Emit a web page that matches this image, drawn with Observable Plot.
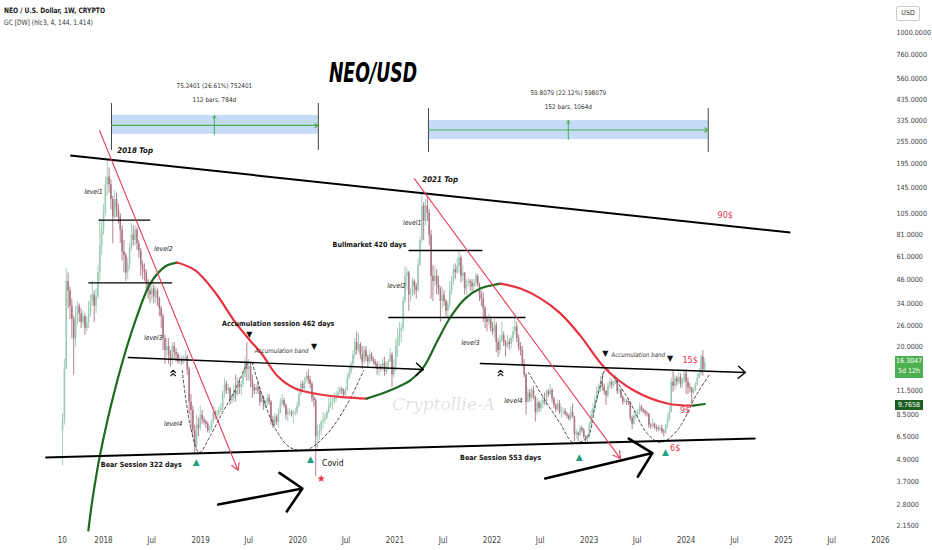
<!DOCTYPE html>
<html><head><meta charset="utf-8">
<script src="https://cdn.jsdelivr.net/npm/d3@7"></script>
<script src="https://cdn.jsdelivr.net/npm/@observablehq/plot@0.6"></script>
<style>
html,body{margin:0;padding:0;background:#fff;}
#wrap{position:relative;width:932px;height:550px;overflow:hidden;background:#fff;font-family:"Liberation Sans Narrow","DejaVu Sans Condensed","Liberation Sans",Arial,sans-serif;}
.abs{position:absolute;white-space:nowrap;}
</style></head><body><div id="wrap"></div>
<script>
// ---------- weekly candles (NEO/USD, 1W), weeks start 2017-07-31 ----------
const startDate = "2017-07-31";
const firstOpen = 7;
const close2017 = [8,15,45,40,33,28,22,30,33,30,27,29,25,27,30,35,38,33,37,50,70,85];
const high2017  = [8.7,17,53,50,42,36,29,33,35,34,32,31,30,29,35,38,45,40,41,55,98,95];
const low2017   = [4.5,7.5,15,32,28,22,14,20,26,27,25,26,23,24,25,29,33,27,30,36,45,62];
const close2018 = [105,150,165,150,125,100,125,110,100,85,65,62,50,55,68,80,75,85,72,66,55,52,50,44,40,38,41,37,40,36,32,29,22,19,20,18,17,20,18.5,18,16.5,17,16.5,17,17.5,15,10,9,7,5.8,7.5,7.2,8.5];
const high2018  = [118,165,205,185,160,130,140,135,118,105,90,75,64,60,72,92,90,90,88,75,68,58,56,52,46,42,44,43,42,41,37,33,30,23,22,22,19,21,21,19.5,18.5,18,17.5,17.8,19,18,15.5,11,9.5,7.5,8.5,8.2,9.5];
const low2018   = [80,100,130,135,110,72,98,100,92,72,58,50,45,46,52,66,70,70,66,60,48,46,45,40,36,34,35,34,34,33,29,25,19,16,17.5,16,15.5,16,17,16.5,16,16,15.8,16,16.5,14,8.5,7,6.5,5.2,5.6,6.5,7];
const close2019 = [8,7.8,7.6,7.0,7.2,7.8,8.8,8.5,8.6,9.0,9.3,11,12.5,11.5,11.8,10.2,10.5,11.5,11,12.5,12,12.4,14,16.5,15,15.5,13,12,11.5,12,11.5,10,10.5,9.5,9.8,10.5,10,8,7.5,8.3,7.8,8.7,9.8,10.2,9.6,8.5,8.8,8.8,8.6,8.7,8.8,9.5];
const high2019  = [9,8.3,8,7.8,7.4,8,9.6,9,9,9.4,9.8,11.5,13.5,13,12.5,12,11,12.5,14,13.5,13.5,13,15,17.5,21,17,16.5,14,12.5,12.5,13,12,11,10.8,10.2,11,11,10.2,8.4,8.7,8.5,9.2,10.5,11,10.5,9.8,9.2,9.2,9,9,9.2,10];
const low2019   = [7.6,7.5,7.2,6.8,6.7,7,7.6,8,8.1,8.4,8.8,9,10.5,11,11,9.6,9.8,10,10,10.8,11,10.8,12,13.5,13,13,12,10.5,11,11,11,9.5,9.8,9,9.2,9.5,9.6,7.5,7.2,7.3,7.5,7.2,8.6,9.5,9.3,8,7.8,8.4,8.3,7.6,8.4,8.5];
const close2020 = [11,12.5,11.8,13,13.8,13.2,12.5,10.5,10.2,6.5,6.8,7.0,7.8,8.0,8.2,8.8,9.6,9.9,10,10.5,10.8,11.2,11.7,11.5,10.9,11.6,13.5,14.5,16,18,21,19,20.5,18,16.5,19,17.5,16.5,18,17,16.5,16,15,15.5,15.2,16.2,14.5,15.5,16.5,18,14,15.5];
const high2020  = [11.5,13,13,13.6,14.5,15,13.8,12.8,11,10.5,7.5,7.6,8.0,8.8,8.6,9,10.5,10.6,10.5,11.2,11.4,12,12.2,12,11.8,12,14.2,15.5,16.5,19,22,24,23.5,21,20,20,20,18,19,18.5,17.5,17,16.5,16.5,16,17.2,17.5,16.5,17,19.5,18.5,17];
const low2020   = [9.3,10.8,11.3,11.6,12.8,12.5,11.8,10,9.4,3.95,5.6,6.2,6.6,7.2,7.6,8,8.6,9.2,9,9.7,10,10.6,10.9,10.9,10.6,10.8,11.4,13.2,14,15,17,18,18.5,17,15,16,16.5,15.5,16,16.5,15.8,15.2,14,13.8,14.6,14.8,13.8,14,14.8,16.5,12,13.5];
const close2021 = [20,22,24,25,35,48,50,38,38,45,42,40,55,75,115,95,115,105,80,48,45,48,43,41,35,38,35,31,34,40,45,52,50,54,60,48,50,41,44,45,44,42,44,48,43,38,36,32,28,27,28,25];
const high2021  = [22,25,27,26.5,37,54,53,51,41,47,46,44,60,78,140,120,125,130,110,85,55,54,52,48,42,42,40,36,35,45,48,55,56,60,66,62,55,50,46,47,46,46,46,50,49,44,40,39,33,29,30,29];
const low2021   = [14.5,17.5,20,21,24,34,40,31,35,37,38,36,39,54,72,75,90,95,70,36,35,42,38,38,27,32,33,29,28,32,38,43,46,49,50,44,45,38,38,42,40,39,39,42,42,35,33,27,25,24,26,24];
const close2022 = [24,26,21,19,21.5,23,21,20,21,20.5,22,24,25.5,22,20,19,16,14,10,11.2,10.5,11.6,10.6,8.8,9.9,9.2,9.8,10.2,10,11.4,11,11.6,10.4,9.6,9.1,9.8,8.8,8.9,8.9,8.6,8.4,8.1,8.8,8.3,6.7,6.8,6.6,7.2,7.0,6.5,6.3,6.5];
const high2022  = [27,28,27,22,23,27,24,21.5,23,22,23,25.5,30,27,23,21,20,17,14.2,12,11.7,12,12.2,10.8,10.4,10.1,10.2,10.7,11.2,11.6,11.7,12.5,11.8,10.6,9.8,10.3,10.2,9.4,9.3,9.2,8.8,8.6,9.4,9.8,8.4,7.1,6.9,7.5,7.4,7.2,6.6,6.7];
const low2022   = [23,22,18.5,17.5,18,21,20,17.5,19.5,19,19.5,21,23,21,19,17.8,15.5,13.5,8.5,9.8,10,10,10.3,7.8,8.5,8.8,8.9,9.2,9.6,9.5,10.6,10.8,9.9,9.2,8.8,8.9,8.6,8.2,8.5,8.4,8.1,7.9,7.9,8.2,6.1,6.3,6.1,6.5,6.8,6.3,6.0,6.0];
const close2023 = [7.5,8.5,9.2,10.2,11.5,11.8,12.8,12,11.4,10.8,12.2,12.8,12.3,12.6,13.2,11.4,11.6,10.6,10,10.1,10,9.9,8.2,7.6,8.4,8.6,8.8,9.4,9.1,8.9,8.7,8.6,7.5,7.4,7.6,7.3,7.2,7.1,7.2,6.9,6.8,7.4,8.0,8.8,12.8,12.2,13.4,12.8,13.6,12.4,13,14.2];
const high2023  = [7.8,9,9.8,10.8,12.2,12.5,13.8,14.3,12.5,11.6,12.8,13.6,13.2,13,14,13.5,12,11.8,10.8,10.5,10.3,10.4,10,8.4,8.8,9,9.1,9.9,9.6,9.2,9.1,8.9,8.7,7.7,8.1,7.7,7.5,7.4,7.5,7.5,7.1,7.6,8.6,9.4,13.5,14.8,14,13.8,14.4,14.2,13.5,14.8];
const low2023   = [6.3,7.3,8.3,9,10,10.8,11.3,11.5,10.9,9.6,10.5,11.8,11.7,12,12.4,11,11,10.4,9.6,9.8,9.6,9.6,7.9,7.1,7.5,8.1,8.3,8.5,8.8,8.6,8.4,8.3,7.2,7.1,7.2,7.1,6.9,6.9,6.9,6.7,6.5,6.7,7.2,7.8,8.7,11.3,11.6,12.2,12.5,11.9,11.8,12.6];
const close2024 = [12.8,12,11.8,11.2,11.6,12.4,13.5,14.2,17.5,15,16.3047];
const high2024  = [15,13.5,12.6,12,12,12.8,14.2,15.2,18,19,17.2];
const low2024   = [11,11,11.2,9.8,11,11.4,12.2,13.3,13.8,13.8,14.6];

// ---------- GC [DW] indicator (rising = green, falling = red) ----------
const gcRise1 = [["2017-11-05",2.02],["2017-11-20",2.94],["2017-12-20",5.27],["2018-02-22",13.1],["2018-05-01",27.6],["2018-06-26",43.8],["2018-08-21",54.2],["2018-10-05",56.9]];
const gcFall1 = [["2018-10-05",56.9],["2018-12-12",51.6],["2019-02-25",39.2],["2019-05-12",27.0],["2019-07-07",21.5],["2019-08-21",18.1],["2019-10-16",13.9],["2019-12-23",11.85],["2020-03-26",11.0],["2020-06-29",10.6],["2020-09-16",10.45]];
const gcRise2 = [["2020-09-16",10.45],["2020-12-15",11.6],["2021-02-28",13.1],["2021-04-18",15.4],["2021-06-10",21.5],["2021-07-28",28.7],["2021-09-23",36.4],["2021-11-18",41.2],["2022-02-02",43.8]];
const gcFall2 = [["2022-02-02",43.8],["2022-04-18",41.2],["2022-07-02",36.4],["2022-09-15",30.2],["2022-11-29",22.9],["2023-03-03",15.2],["2023-06-17",11.6],["2023-10-22",9.83],["2024-01-27",9.58]];
const gcRise3 = [["2024-01-27",9.58],["2024-03-11",9.7658]];
const gcLast = 9.7658;

// ---------- drawings ----------
const trendLines = [["2017-08-29",216,"2025-01-27",82.8],["2017-05-27",5.02,"2024-09-18",6.36]];
const levelLines = [["2017-12-13",96.5,"2018-06-26",96.5],["2017-11-05",44.2,"2018-09-16",44.2],["2021-02-21",66.1,"2021-11-26",66.1],["2020-12-07",28.7,"2022-05-07",28.7]];
const bandArrows = [["2018-04-04",17.43,"2021-04-18",15.01],["2021-11-18",16.18,"2024-08-11",14.47]];
const redArrows = [["2017-12-17",295,"2019-05-22",4.27],["2021-03-15",162,"2023-04-29",4.95]];
const blackArrows = [["2019-03-08",2.79,"2020-01-19",3.41],["2022-07-20",3.86,"2023-08-27",5.30]];
const cups = [
  [["2018-10-24",14.83],["2018-11-23",7.47],["2018-12-27",5.34],["2019-02-07",6.59],["2019-03-24",8.78],["2019-05-04",11.1],["2019-06-29",16.8]],
  [["2019-07-14",16.38],["2019-08-21",10.86],["2019-10-09",7.2],["2019-12-04",5.68],["2020-02-06",5.54],["2020-04-22",6.76],["2020-07-07",9.83],["2020-09-05",14.83]],
  [["2022-05-18",14.47],["2022-07-20",10.2],["2022-09-15",7.66],["2022-11-02",6.05],["2022-12-25",6.43],["2023-01-24",9.59],["2023-02-27",14.83]],
  [["2023-03-11",15.2],["2023-05-25",10.6],["2023-08-08",6.76],["2023-09-26",6.05],["2023-11-28",7.02],["2024-02-11",11.1],["2024-04-01",14.29]]
];
const topMarks = [["2019-07-03",23.2],["2020-03-03",20.0],["2023-03-03",18.3],["2023-11-02",17.22]];
const bottomMarks = [["2018-12-16",4.71],["2020-02-18",4.89],["2022-11-25",5.02],["2023-10-15",5.34]];
const doubleUpMarks = [["2018-09-20",14.29],["2022-02-02",14.29]];
const covidStar = [["2020-03-30",3.86]];

const sessionNotes = [["2018-05-23",4.60,"Bear Session 322 days"],["2019-10-20",26.6,"Accumulation session 462 days"],["2020-09-27",71.3,"Bullmarket 420 days"],["2022-02-02",5.02,"Bear Session 553 days"]];
const topNotes = [["2018-02-22",230,"2018 Top"],["2021-04-14",160,"2021 Top"]];
const levelNotes = [["2017-11-24",138,"level1"],["2018-08-14",67.8,"level2"],["2018-07-07",22.4,"level3"],["2018-09-20",7.66,"level4"],["2021-03-07",93.7,"level1"],["2021-01-07",42.8,"level2"],["2021-10-12",21.0,"level3"],["2022-03-23",10.2,"level4"]];
const bandNotes = [["2019-11-02",18.8,"Accumulation band"],["2023-07-05",17.9,"Accumulation band"]];
const priceNotes = [["2024-01-16",16.8,"15$"],["2023-12-28",9.01,"9$"],["2023-11-21",5.61,"6$"],["2024-05-27",102.3,"90$"]];
const covidNote = [["2020-04-02",4.65,"Covid"]];

// date-range measurements: start, end, middle, band top/bottom, middle price, frame top/bottom, label prices, labels
const measures = [
  ["2018-01-31","2020-03-19","2019-02-22",356,281,314,413,230,511,429,"75.2401 (26.61%) 752401","112 bars, 784d"],
  ["2021-05-07","2024-03-24","2022-10-15",334,263.6,296.8,388,224,473.5,397.8,"59.8079 (22.12%) 598079","152 bars, 1064d"]
];

// axes
const yTicks = [1000,760,560,435,335,255,195,145,105,81,61,46,34,26,20,11.5,8.5,6.5,4.9,3.7,2.8,2.15];
const xTickDates = ["2017-07-30","2018-01-01","2018-07-01","2019-01-01","2019-07-01","2020-01-01","2020-07-01","2021-01-01","2021-07-01","2022-01-01","2022-07-01","2023-01-01","2023-07-01","2024-01-01","2024-07-01","2025-01-01","2025-07-01","2026-01-01"];
const xTickLabels = ["10","2018","Jul","2019","Jul","2020","Jul","2021","Jul","2022","Jul","2023","Jul","2024","Jul","2025","Jul","2026"];
const xEnd = "2026-01-01";

// ---------- build ----------
const D = s => new Date(s + "T00:00:00Z");
const closes = [...close2017,...close2018,...close2019,...close2020,...close2021,...close2022,...close2023,...close2024];
const highs  = [...high2017,...high2018,...high2019,...high2020,...high2021,...high2022,...high2023,...high2024];
const lows   = [...low2017,...low2018,...low2019,...low2020,...low2021,...low2022,...low2023,...low2024];
const t0 = D(startDate).getTime();
const candles = closes.map((c,i) => {
  const o = i === 0 ? firstOpen : closes[i-1];
  return {date:new Date(t0 + i*7*864e5), open:o, close:c, high:Math.max(highs[i],o,c), low:Math.min(lows[i],o,c), up:c>=o};
});
const pts = a => a.map(([d,p]) => ({d:D(d), p}));
const segs = a => a.map(([a1,p1,a2,p2]) => ({d1:D(a1), p1, d2:D(a2), p2}));
const notes = a => a.map(([d,p,t]) => ({d:D(d), p, t}));
const meas = measures.map(m => ({d1:D(m[0]), d2:D(m[1]), dm:D(m[2]), top:m[3], bot:m[4], mid:m[5], vt:m[6], vb:m[7], l1:m[8], l2:m[9], t1:m[10], t2:m[11]}));
const labelMap = new Map(xTickDates.map((d,i) => [+D(d), xTickLabels[i]]));

// double chevron marker symbol
const doubleChevron = {
  draw(ctx, size) {
    const s = Math.sqrt(size) / 2;
    ctx.moveTo(-s, -0.2*s); ctx.lineTo(0, -1.2*s); ctx.lineTo(s, -0.2*s);
    ctx.moveTo(-s, 1.0*s); ctx.lineTo(0, 0); ctx.lineTo(s, 1.0*s);
  }
};

const UP = "#9ccab4", DOWN = "#ac7584", GREEN = "#1d6b21", RED = "#e8323f", PINK = "#e5334f", TEAL = "#1f9e80";
const FONT = '"Liberation Sans Narrow","DejaVu Sans Condensed","Liberation Sans",Arial,sans-serif';

const chart = Plot.plot({
  width: 932, height: 550,
  marginLeft: 0, marginRight: 40, marginTop: 0, marginBottom: 16,
  style: {fontFamily: FONT, background: "transparent", color: "#222"},
  x: {type: "utc", domain: [D("2018-01-01"), D(xEnd)], range: [103, 880]},
  y: {type: "log", domain: [2.15, 1000], range: [525, 32]},
  marks: [
    // measurement boxes
    Plot.rect(meas, {x1:"d1", x2:"d2", y1:"bot", y2:"top", fill:"#bcd6f4", fillOpacity:0.85}),
    Plot.ruleX(meas, {x:"d1", y1:"vb", y2:"vt", stroke:"#444", strokeWidth:1}),
    Plot.ruleX(meas, {x:"d2", y1:"vb", y2:"vt", stroke:"#444", strokeWidth:1}),
    Plot.arrow(meas, {x1:"d1", x2:"d2", y1:"mid", y2:"mid", stroke:"#4caf50", strokeWidth:1.2, headLength:5}),
    Plot.arrow(meas, {x1:"dm", x2:"dm", y1:"bot", y2:"top", stroke:"#4caf50", strokeWidth:1, headLength:5}),
    Plot.text(meas, {x:"dm", y:"l1", text:"t1", fontSize:6.4, fill:"#333"}),
    Plot.text(meas, {x:"dm", y:"l2", text:"t2", fontSize:6.4, fill:"#333"}),
    // candles
    Plot.ruleX(candles, {x:"date", y1:"low", y2:"high", stroke:d => d.up ? UP : DOWN, strokeWidth:0.9}),
    Plot.ruleX(candles, {x:"date", y1:"open", y2:"close", stroke:d => d.up ? UP : DOWN, strokeWidth:1.6}),
    // dashed cups
    ...cups.map(c => Plot.line(pts(c), {x:"d", y:"p", stroke:"#333", strokeWidth:0.9, strokeDasharray:"2.5,2.5", curve:"catmull-rom"})),
    // GC indicator
    Plot.line(pts(gcRise1), {x:"d", y:"p", stroke:GREEN, strokeWidth:2.2, curve:"catmull-rom"}),
    Plot.line(pts(gcFall1), {x:"d", y:"p", stroke:RED, strokeWidth:2.2, curve:"catmull-rom"}),
    Plot.line(pts(gcRise2), {x:"d", y:"p", stroke:GREEN, strokeWidth:2.2, curve:"catmull-rom"}),
    Plot.line(pts(gcFall2), {x:"d", y:"p", stroke:RED, strokeWidth:2.2, curve:"catmull-rom"}),
    Plot.line(pts(gcRise3), {x:"d", y:"p", stroke:GREEN, strokeWidth:2.2, curve:"catmull-rom"}),
    // trend lines and levels
    Plot.link(segs(trendLines), {x1:"d1", y1:"p1", x2:"d2", y2:"p2", stroke:"#000", strokeWidth:2}),
    Plot.link(segs(levelLines), {x1:"d1", y1:"p1", x2:"d2", y2:"p2", stroke:"#000", strokeWidth:1.4}),
    Plot.arrow(segs(bandArrows), {x1:"d1", y1:"p1", x2:"d2", y2:"p2", stroke:"#000", strokeWidth:1.4, headLength:10, headAngle:80}),
    Plot.arrow(segs(redArrows), {x1:"d1", y1:"p1", x2:"d2", y2:"p2", stroke:"#e8405a", strokeWidth:1.1, headLength:11, headAngle:60}),
    Plot.arrow(segs(blackArrows), {x1:"d1", y1:"p1", x2:"d2", y2:"p2", stroke:"#000", strokeWidth:2.6, headLength:16, headAngle:90}),
    // markers
    Plot.text(notes(topMarks.map(m => [...m,"▼"])), {x:"d", y:"p", text:"t", fontSize:8, fill:"#111", fontFamily:"DejaVu Sans"}),
    Plot.text(notes(bottomMarks.map(m => [...m,"▲"])), {x:"d", y:"p", text:"t", fontSize:9, fill:TEAL, fontFamily:"DejaVu Sans"}),
    Plot.dot(pts(doubleUpMarks), {x:"d", y:"p", symbol:doubleChevron, r:3, stroke:"#111", strokeWidth:1.2, fill:"none"}),
    Plot.text(notes(covidStar.map(m => [...m,"★"])), {x:"d", y:"p", text:"t", fontSize:10, fill:PINK, fontFamily:"DejaVu Sans"}),
    // annotations
    Plot.text(notes(sessionNotes), {x:"d", y:"p", text:"t", fontSize:7.1, fontWeight:"bold", fill:"#111"}),
    Plot.text(notes(topNotes), {x:"d", y:"p", text:"t", fontSize:7.8, fontWeight:"bold", fontStyle:"italic", fill:"#111", textAnchor:"start"}),
    Plot.text(notes(levelNotes), {x:"d", y:"p", text:"t", fontSize:6.8, fontStyle:"italic", fill:"#222"}),
    Plot.text(notes(bandNotes), {x:"d", y:"p", text:"t", fontSize:6.2, fontStyle:"italic", fill:"#333"}),
    Plot.text(notes(priceNotes), {x:"d", y:"p", text:"t", fontSize:9, fill:PINK}),
    Plot.text(notes(covidNote), {x:"d", y:"p", text:"t", fontSize:8.5, fill:"#111", textAnchor:"start"}),
    // price axis (right) and time axis (bottom); large tick count keeps every log label
    Plot.axisY(yTicks, {anchor:"right", ticks:1000, tickSize:0, tickPadding:4, tickFormat:d => d.toFixed(4), fontSize:7.1, fill:"#444", label:null}),
    Plot.axisX(xTickDates.map(D), {anchor:"bottom", tickSize:0, tickPadding:3, tickFormat:d => labelMap.get(+d), fontSize:8, fill:"#444", label:null})
  ]
});

const wrap = document.getElementById("wrap");
chart.style.position = "absolute";
chart.style.left = "0px";
chart.style.top = "0px";
wrap.appendChild(chart);

const ys = chart.scale("y");
const lastClose = close2024[close2024.length - 1];
function addDiv(html, css) {
  const el = document.createElement("div");
  el.className = "abs";
  el.innerHTML = html;
  el.style.cssText += css;
  wrap.appendChild(el);
  return el;
}
addDiv("NEO / U.S. Dollar, 1W, CRYPTO", "left:4px;top:6px;font-size:7.4px;font-weight:bold;color:#222;transform:scaleX(0.9);transform-origin:0 0;");
addDiv("GC [DW] (hlc3, 4, 144, 1.414)", "left:4px;top:18px;font-size:7.4px;color:#333;transform:scaleX(0.9);transform-origin:0 0;");
addDiv("NEO/USD", "left:300px;top:58px;width:146px;text-align:center;font-size:26px;line-height:30px;font-weight:bold;font-style:italic;color:#000;transform:scaleX(0.74);transform-origin:50% 0;");
addDiv("Cryptollie-A", "left:392px;top:394px;font-family:'DejaVu Serif','Liberation Serif',serif;font-style:italic;font-size:17px;color:rgba(0,0,0,0.13);");
addDiv("USD", "left:896px;top:6px;width:22px;height:13px;border:1px solid #ccc;border-radius:2px;font-size:7px;line-height:13px;text-align:center;color:#333;");
const yl = ys.apply(lastClose);
addDiv(lastClose.toFixed(4) + "<br>5d 12h", `left:895px;top:${yl-6}px;width:28px;height:21px;background:#4caf50;color:#fff;font-size:7px;line-height:9.5px;padding-top:1px;text-align:center;`);
const yg = ys.apply(gcLast);
addDiv(gcLast.toFixed(4), `left:895px;top:${yg-4}px;width:28px;height:10px;background:#1b5e20;color:#fff;font-size:7px;line-height:10px;text-align:center;`);
</script>
</body></html>
